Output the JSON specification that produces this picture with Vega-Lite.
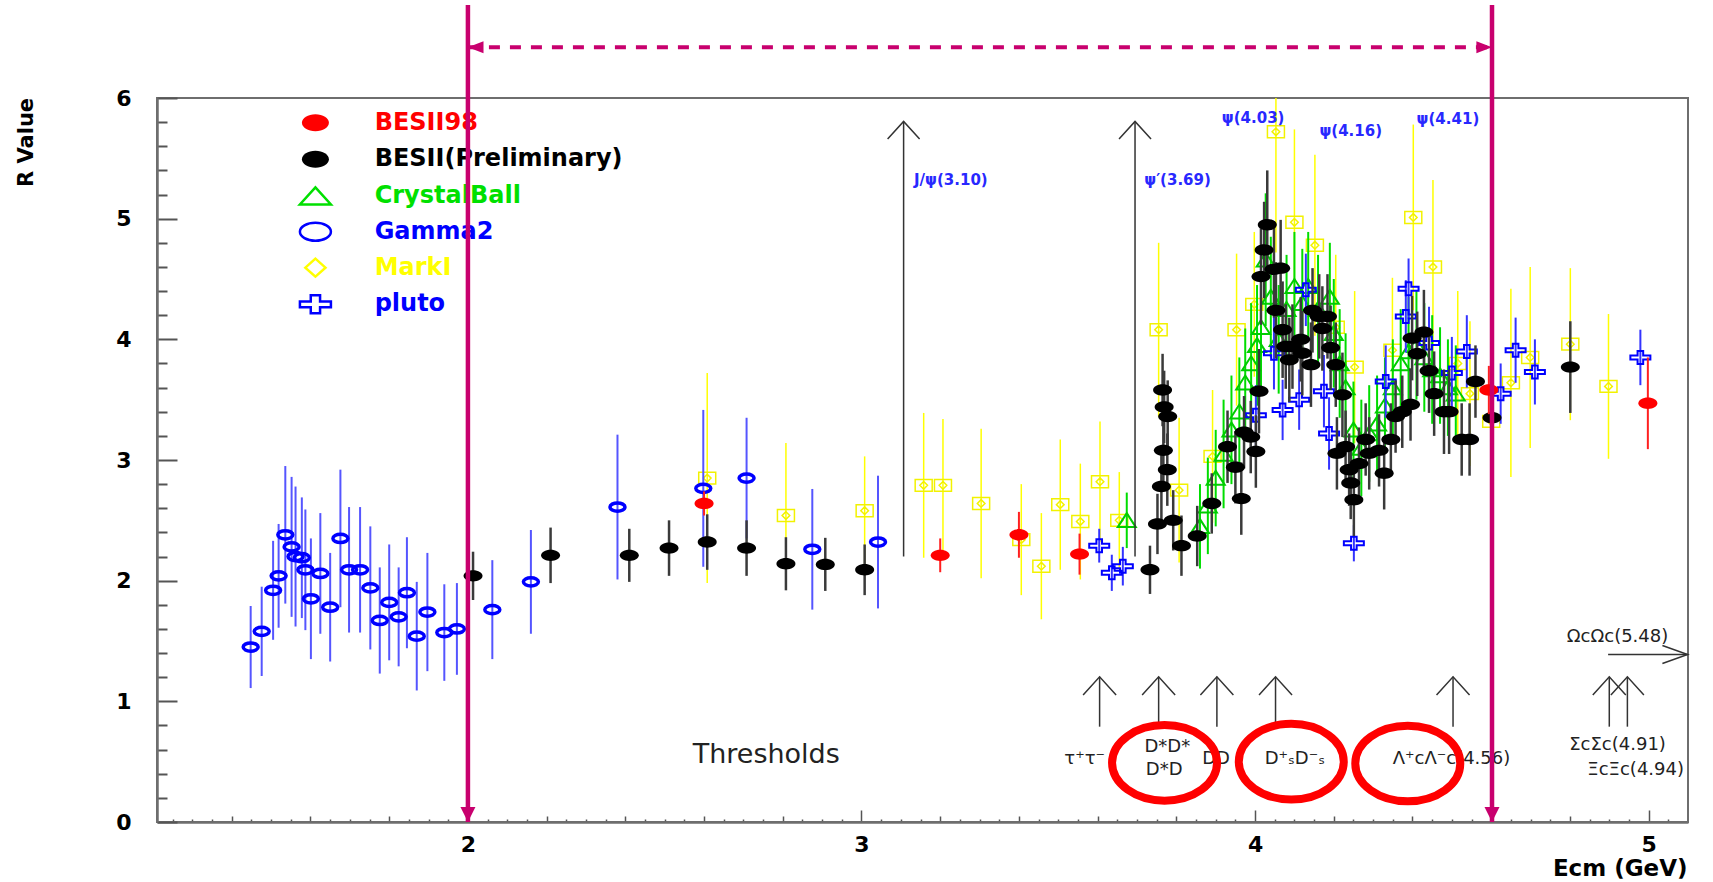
{
  "$schema": "https://vega.github.io/schema/vega-lite/v6.json",
  "width": 1531,
  "height": 724,
  "autosize": {"type": "none"},
  "padding": {"left": 157, "top": 98, "right": 25, "bottom": 60},
  "background": "#ffffff",
  "config": {"view": {"stroke": "#6e6e6e", "strokeWidth": 2}, "font": "DejaVu Sans"},
  "datasets": {
    "besii98": [
      {"Ecm": 2.6, "R": 2.64, "err": 0.1},
      {"Ecm": 3.2, "R": 2.21, "err": 0.14},
      {"Ecm": 3.4, "R": 2.38, "err": 0.19},
      {"Ecm": 3.554, "R": 2.22, "err": 0.17},
      {"Ecm": 4.594, "R": 3.58, "err": 0.2},
      {"Ecm": 4.998, "R": 3.47, "err": 0.38}
    ],
    "besii": [
      {"Ecm": 2.013, "R": 2.04, "err": 0.2},
      {"Ecm": 2.21, "R": 2.21, "err": 0.23},
      {"Ecm": 2.41, "R": 2.21, "err": 0.22},
      {"Ecm": 2.511, "R": 2.27, "err": 0.23},
      {"Ecm": 2.608, "R": 2.32, "err": 0.23},
      {"Ecm": 2.708, "R": 2.27, "err": 0.23},
      {"Ecm": 2.808, "R": 2.14, "err": 0.22},
      {"Ecm": 2.908, "R": 2.135, "err": 0.22},
      {"Ecm": 3.008, "R": 2.09, "err": 0.21},
      {"Ecm": 3.733, "R": 2.09, "err": 0.2},
      {"Ecm": 3.752, "R": 2.47, "err": 0.25},
      {"Ecm": 3.762, "R": 2.78, "err": 0.3},
      {"Ecm": 3.765, "R": 3.58, "err": 0.3},
      {"Ecm": 3.769, "R": 3.44, "err": 0.3},
      {"Ecm": 3.778, "R": 3.36, "err": 0.3},
      {"Ecm": 3.767, "R": 3.08, "err": 0.3},
      {"Ecm": 3.777, "R": 2.92, "err": 0.3},
      {"Ecm": 3.792, "R": 2.5, "err": 0.25},
      {"Ecm": 3.813, "R": 2.29, "err": 0.25},
      {"Ecm": 3.853, "R": 2.37, "err": 0.25},
      {"Ecm": 3.89, "R": 2.64, "err": 0.25},
      {"Ecm": 3.93, "R": 3.11, "err": 0.3},
      {"Ecm": 3.95, "R": 2.94, "err": 0.3},
      {"Ecm": 3.965, "R": 2.68, "err": 0.3},
      {"Ecm": 3.972, "R": 3.23, "err": 0.3},
      {"Ecm": 3.989, "R": 3.19, "err": 0.3},
      {"Ecm": 4.002, "R": 3.07, "err": 0.3},
      {"Ecm": 4.01, "R": 3.57, "err": 0.35},
      {"Ecm": 4.015, "R": 4.52, "err": 0.4},
      {"Ecm": 4.023, "R": 4.74, "err": 0.4},
      {"Ecm": 4.031, "R": 4.95, "err": 0.45},
      {"Ecm": 4.048, "R": 4.58, "err": 0.4},
      {"Ecm": 4.065, "R": 4.59, "err": 0.4},
      {"Ecm": 4.053, "R": 4.24, "err": 0.4},
      {"Ecm": 4.07, "R": 4.08, "err": 0.4},
      {"Ecm": 4.078, "R": 3.94, "err": 0.35},
      {"Ecm": 4.095, "R": 3.94, "err": 0.35},
      {"Ecm": 4.087, "R": 3.83, "err": 0.35},
      {"Ecm": 4.116, "R": 4.0, "err": 0.35},
      {"Ecm": 4.12, "R": 3.885, "err": 0.35},
      {"Ecm": 4.142, "R": 3.79, "err": 0.35},
      {"Ecm": 4.146, "R": 4.24, "err": 0.35},
      {"Ecm": 4.163, "R": 4.19, "err": 0.35},
      {"Ecm": 4.171, "R": 4.09, "err": 0.35},
      {"Ecm": 4.184, "R": 4.19, "err": 0.35},
      {"Ecm": 4.192, "R": 3.93, "err": 0.35},
      {"Ecm": 4.205, "R": 3.79, "err": 0.35},
      {"Ecm": 4.222, "R": 3.54, "err": 0.35},
      {"Ecm": 4.208, "R": 3.055, "err": 0.3},
      {"Ecm": 4.23, "R": 3.11, "err": 0.3},
      {"Ecm": 4.239, "R": 2.92, "err": 0.3},
      {"Ecm": 4.243, "R": 2.81, "err": 0.3},
      {"Ecm": 4.251, "R": 2.67, "err": 0.3},
      {"Ecm": 4.264, "R": 2.97, "err": 0.3},
      {"Ecm": 4.281, "R": 3.17, "err": 0.3},
      {"Ecm": 4.29, "R": 3.055, "err": 0.3},
      {"Ecm": 4.315, "R": 3.08, "err": 0.3},
      {"Ecm": 4.328, "R": 2.89, "err": 0.3},
      {"Ecm": 4.345, "R": 3.17, "err": 0.3},
      {"Ecm": 4.357, "R": 3.36, "err": 0.3},
      {"Ecm": 4.374, "R": 3.4, "err": 0.3},
      {"Ecm": 4.395, "R": 3.46, "err": 0.3},
      {"Ecm": 4.399, "R": 4.01, "err": 0.35},
      {"Ecm": 4.412, "R": 3.88, "err": 0.35},
      {"Ecm": 4.429, "R": 4.06, "err": 0.35},
      {"Ecm": 4.442, "R": 3.74, "err": 0.35},
      {"Ecm": 4.455, "R": 3.55, "err": 0.35},
      {"Ecm": 4.48, "R": 3.4, "err": 0.35},
      {"Ecm": 4.493, "R": 3.4, "err": 0.35},
      {"Ecm": 4.525, "R": 3.17, "err": 0.3},
      {"Ecm": 4.545, "R": 3.17, "err": 0.3},
      {"Ecm": 4.56, "R": 3.65, "err": 0.3},
      {"Ecm": 4.602, "R": 3.35, "err": 0.3},
      {"Ecm": 4.801, "R": 3.77, "err": 0.38}
    ],
    "crystal": [
      {"Ecm": 3.674, "R": 2.5, "err": 0.23},
      {"Ecm": 3.86, "R": 2.45, "err": 0.35},
      {"Ecm": 3.88, "R": 2.62, "err": 0.4},
      {"Ecm": 3.9, "R": 2.85, "err": 0.4},
      {"Ecm": 3.92, "R": 3.05, "err": 0.45},
      {"Ecm": 3.94, "R": 3.25, "err": 0.45},
      {"Ecm": 3.96, "R": 3.4, "err": 0.45},
      {"Ecm": 3.975, "R": 3.64, "err": 0.45},
      {"Ecm": 3.99, "R": 3.8, "err": 0.5},
      {"Ecm": 4.005, "R": 3.95, "err": 0.5},
      {"Ecm": 4.015, "R": 4.1, "err": 0.5},
      {"Ecm": 4.027, "R": 4.66, "err": 0.55},
      {"Ecm": 4.04, "R": 4.35, "err": 0.5},
      {"Ecm": 4.06, "R": 4.0, "err": 0.45},
      {"Ecm": 4.08, "R": 4.25, "err": 0.45},
      {"Ecm": 4.1, "R": 4.44, "err": 0.45},
      {"Ecm": 4.12, "R": 4.3, "err": 0.45},
      {"Ecm": 4.135, "R": 4.44, "err": 0.45},
      {"Ecm": 4.16, "R": 4.25, "err": 0.45},
      {"Ecm": 4.19, "R": 4.35, "err": 0.45},
      {"Ecm": 4.2, "R": 4.05, "err": 0.45},
      {"Ecm": 4.215, "R": 3.8, "err": 0.45},
      {"Ecm": 4.23, "R": 3.6, "err": 0.45},
      {"Ecm": 4.25, "R": 3.25, "err": 0.4},
      {"Ecm": 4.27, "R": 3.1, "err": 0.4},
      {"Ecm": 4.29, "R": 3.22, "err": 0.4},
      {"Ecm": 4.31, "R": 3.3, "err": 0.4},
      {"Ecm": 4.33, "R": 3.45, "err": 0.4},
      {"Ecm": 4.35, "R": 3.6, "err": 0.4},
      {"Ecm": 4.37, "R": 3.8, "err": 0.45},
      {"Ecm": 4.39, "R": 3.9, "err": 0.45},
      {"Ecm": 4.41, "R": 3.95, "err": 0.45},
      {"Ecm": 4.43, "R": 3.85, "err": 0.45},
      {"Ecm": 4.45, "R": 3.75, "err": 0.45},
      {"Ecm": 4.47, "R": 3.7, "err": 0.4},
      {"Ecm": 4.49, "R": 3.6, "err": 0.4},
      {"Ecm": 4.51, "R": 3.55, "err": 0.4}
    ],
    "gamma2": [
      {"Ecm": 1.448, "R": 1.45, "err": 0.34},
      {"Ecm": 1.476, "R": 1.58, "err": 0.37},
      {"Ecm": 1.505, "R": 1.92, "err": 0.41},
      {"Ecm": 1.519, "R": 2.04, "err": 0.43},
      {"Ecm": 1.536, "R": 2.38, "err": 0.57},
      {"Ecm": 1.552, "R": 2.28, "err": 0.58},
      {"Ecm": 1.562, "R": 2.2, "err": 0.58},
      {"Ecm": 1.578, "R": 2.19, "err": 0.5},
      {"Ecm": 1.587, "R": 2.09, "err": 0.5},
      {"Ecm": 1.601, "R": 1.85, "err": 0.5},
      {"Ecm": 1.625, "R": 2.06, "err": 0.5},
      {"Ecm": 1.65, "R": 1.78, "err": 0.45},
      {"Ecm": 1.676, "R": 2.35, "err": 0.57},
      {"Ecm": 1.698, "R": 2.09, "err": 0.52},
      {"Ecm": 1.726, "R": 2.09, "err": 0.52},
      {"Ecm": 1.752, "R": 1.94, "err": 0.51},
      {"Ecm": 1.776, "R": 1.67, "err": 0.44},
      {"Ecm": 1.8, "R": 1.82, "err": 0.48},
      {"Ecm": 1.824, "R": 1.7, "err": 0.41},
      {"Ecm": 1.845, "R": 1.9, "err": 0.46},
      {"Ecm": 1.87, "R": 1.54, "err": 0.45},
      {"Ecm": 1.897, "R": 1.74, "err": 0.49},
      {"Ecm": 1.94, "R": 1.57, "err": 0.4},
      {"Ecm": 1.972, "R": 1.6, "err": 0.38},
      {"Ecm": 2.062, "R": 1.76, "err": 0.41},
      {"Ecm": 2.16, "R": 1.99, "err": 0.43},
      {"Ecm": 2.38, "R": 2.61, "err": 0.6},
      {"Ecm": 2.598, "R": 2.765, "err": 0.65},
      {"Ecm": 2.708, "R": 2.85, "err": 0.5},
      {"Ecm": 2.875, "R": 2.26, "err": 0.5},
      {"Ecm": 3.042, "R": 2.32, "err": 0.55}
    ],
    "markI": [
      {"Ecm": 2.608, "R": 2.85, "err": 0.87},
      {"Ecm": 2.808, "R": 2.54, "err": 0.6},
      {"Ecm": 3.008, "R": 2.58, "err": 0.45},
      {"Ecm": 3.158, "R": 2.79, "err": 0.6},
      {"Ecm": 3.207, "R": 2.79, "err": 0.55},
      {"Ecm": 3.304, "R": 2.64, "err": 0.62},
      {"Ecm": 3.406, "R": 2.34, "err": 0.46},
      {"Ecm": 3.457, "R": 2.12, "err": 0.44},
      {"Ecm": 3.505, "R": 2.63, "err": 0.54},
      {"Ecm": 3.556, "R": 2.49, "err": 0.48},
      {"Ecm": 3.606, "R": 2.82, "err": 0.5},
      {"Ecm": 3.655, "R": 2.5, "err": 0.4},
      {"Ecm": 3.755, "R": 4.08, "err": 0.72},
      {"Ecm": 3.807, "R": 2.75, "err": 0.6},
      {"Ecm": 3.892, "R": 3.03, "err": 0.55},
      {"Ecm": 3.953, "R": 4.08, "err": 0.63},
      {"Ecm": 3.998, "R": 4.29, "err": 0.6},
      {"Ecm": 4.053, "R": 5.72, "err": 1.0},
      {"Ecm": 4.1, "R": 4.97, "err": 0.77},
      {"Ecm": 4.152, "R": 4.78, "err": 0.75},
      {"Ecm": 4.205, "R": 4.1, "err": 0.6},
      {"Ecm": 4.253, "R": 3.77, "err": 0.63},
      {"Ecm": 4.349, "R": 3.91, "err": 0.6},
      {"Ecm": 4.402, "R": 5.01, "err": 0.77},
      {"Ecm": 4.452, "R": 4.6, "err": 0.72},
      {"Ecm": 4.515, "R": 3.8, "err": 0.6},
      {"Ecm": 4.546, "R": 3.55, "err": 0.6},
      {"Ecm": 4.6, "R": 3.32, "err": 0.5},
      {"Ecm": 4.65, "R": 3.64, "err": 0.78},
      {"Ecm": 4.699, "R": 3.85, "err": 0.75},
      {"Ecm": 4.801, "R": 3.96, "err": 0.63},
      {"Ecm": 4.898, "R": 3.61, "err": 0.6}
    ],
    "pluto": [
      {"Ecm": 3.604, "R": 2.29, "err": 0.14},
      {"Ecm": 3.636, "R": 2.065, "err": 0.15},
      {"Ecm": 3.664, "R": 2.12, "err": 0.16},
      {"Ecm": 4.002, "R": 3.37, "err": 0.25},
      {"Ecm": 4.048, "R": 3.885, "err": 0.3},
      {"Ecm": 4.07, "R": 3.415, "err": 0.25},
      {"Ecm": 4.112, "R": 3.5, "err": 0.25},
      {"Ecm": 4.129, "R": 4.41, "err": 0.3},
      {"Ecm": 4.175, "R": 3.57, "err": 0.3},
      {"Ecm": 4.188, "R": 3.22, "err": 0.3},
      {"Ecm": 4.251, "R": 2.31, "err": 0.15},
      {"Ecm": 4.332, "R": 3.65, "err": 0.3},
      {"Ecm": 4.383, "R": 4.19, "err": 0.3},
      {"Ecm": 4.39, "R": 4.42, "err": 0.25},
      {"Ecm": 4.442, "R": 3.97, "err": 0.3},
      {"Ecm": 4.5, "R": 3.72, "err": 0.3},
      {"Ecm": 4.538, "R": 3.9, "err": 0.3},
      {"Ecm": 4.624, "R": 3.55, "err": 0.25},
      {"Ecm": 4.662, "R": 3.91, "err": 0.27},
      {"Ecm": 4.711, "R": 3.73, "err": 0.27},
      {"Ecm": 4.979, "R": 3.85, "err": 0.23}
    ],
    "resonances": [
      {"Ecm": 3.107, "R": 2.2, "R2": 5.806},
      {"Ecm": 3.695, "R": 2.2, "R2": 5.806}
    ],
    "peakLabels": [
      {"label": "J/ψ(3.10)", "Ecm": 3.227, "R": 5.32},
      {"label": "ψ′(3.69)", "Ecm": 3.803, "R": 5.32},
      {"label": "ψ(4.03)", "Ecm": 3.995, "R": 5.834},
      {"label": "ψ(4.16)", "Ecm": 4.243, "R": 5.729},
      {"label": "ψ(4.41)", "Ecm": 4.49, "R": 5.83}
    ],
    "thresholds": [
      {"Ecm": 3.605, "R": 0.79, "R2": 1.203},
      {"Ecm": 3.755, "R": 0.79, "R2": 1.203},
      {"Ecm": 3.903, "R": 0.79, "R2": 1.203},
      {"Ecm": 4.052, "R": 0.79, "R2": 1.203},
      {"Ecm": 4.503, "R": 0.79, "R2": 1.203},
      {"Ecm": 4.9, "R": 0.79, "R2": 1.203},
      {"Ecm": 4.946, "R": 0.79, "R2": 1.203}
    ],
    "omega": [
      {"Ecm": 4.897, "Ecm2": 5.099, "R": 1.388}
    ],
    "thresholdLabels": [
      {"label": "τ⁺τ⁻", "Ecm": 3.567, "R": 0.526},
      {"label": "D*D*", "Ecm": 3.777, "R": 0.622},
      {"label": "D*D", "Ecm": 3.769, "R": 0.429},
      {"label": "DD", "Ecm": 3.901, "R": 0.526},
      {"label": "D⁺ₛD⁻ₛ", "Ecm": 4.101, "R": 0.526},
      {"label": "Λ⁺cΛ⁻c(4.56)", "Ecm": 4.499, "R": 0.526},
      {"label": "ΣcΣc(4.91)", "Ecm": 4.921, "R": 0.636},
      {"label": "ΞcΞc(4.94)", "Ecm": 4.967, "R": 0.429},
      {"label": "ΩcΩc(5.48)", "Ecm": 4.921, "R": 1.534}
    ],
    "captions": [
      {"label": "Thresholds", "Ecm": 2.758, "R": 0.555}
    ],
    "legend": [
      {"label": "BESII98", "Ecm": 1.6125, "labelEcm": 1.763, "R": 5.795},
      {"label": "BESII(Preliminary)", "Ecm": 1.6125, "labelEcm": 1.763, "R": 5.492},
      {"label": "CrystalBall", "Ecm": 1.6125, "labelEcm": 1.763, "R": 5.188},
      {"label": "Gamma2", "Ecm": 1.6125, "labelEcm": 1.763, "R": 4.892},
      {"label": "MarkI", "Ecm": 1.6125, "labelEcm": 1.763, "R": 4.594},
      {"label": "pluto", "Ecm": 1.6125, "labelEcm": 1.763, "R": 4.29}
    ],
    "circled": [
      {"Ecm": 3.77, "R": 0.49},
      {"Ecm": 4.092, "R": 0.5},
      {"Ecm": 4.388, "R": 0.485}
    ],
    "bounds": [
      {"Ecm": 2.0, "R": 0, "R2": 6.77},
      {"Ecm": 4.602, "R": 0, "R2": 6.77}
    ],
    "span": [
      {"Ecm": 2.0, "Ecm2": 4.602, "R": 6.42}
    ]
  },
  "encoding": {
    "x": {
      "field": "Ecm",
      "type": "quantitative",
      "scale": {"domain": [1.21, 5.1], "nice": false, "zero": false},
      "axis": {
        "title": "Ecm (GeV)",
        "values": [1.25,1.3,1.35,1.4,1.45,1.5,1.55,1.6,1.65,1.7,1.75,1.8,1.85,1.9,1.95,2,2.05,2.1,2.15,2.2,2.25,2.3,2.35,2.4,2.45,2.5,2.55,2.6,2.65,2.7,2.75,2.8,2.85,2.9,2.95,3,3.05,3.1,3.15,3.2,3.25,3.3,3.35,3.4,3.45,3.5,3.55,3.6,3.65,3.7,3.75,3.8,3.85,3.9,3.95,4,4.05,4.1,4.15,4.2,4.25,4.3,4.35,4.4,4.45,4.5,4.55,4.6,4.65,4.7,4.75,4.8,4.85,4.9,4.95,5,5.05],
        "format": ".0f",
        "labelExpr": "abs(datum.value - round(datum.value)) < 1e-6 ? datum.label : ''",
        "labelFont": "DejaVu Sans",
        "labelFontWeight": "bold",
        "labelFontSize": 22,
        "labelColor": "#000000",
        "labelPadding": 24,
        "labelOverlap": false,
        "labelFlush": false,
        "labelBound": false,
        "tickSize": {
          "condition": [
            {"test": "abs(datum.value - round(datum.value)) < 1e-6", "value": -12},
            {"test": "abs(datum.value * 5 - round(datum.value * 5)) < 1e-6", "value": -6}
          ],
          "value": -3
        },
        "tickColor": "#555555",
        "tickWidth": 1.5,
        "domainColor": "#6e6e6e",
        "domainWidth": 2.5,
        "grid": false,
        "titleFont": "DejaVu Sans",
        "titleFontWeight": "bold",
        "titleFontSize": 23,
        "titleColor": "#000000",
        "titleX": 1530,
        "titleY": 46,
        "titleAlign": "right",
        "titleBaseline": "middle"
      }
    },
    "y": {
      "field": "R",
      "type": "quantitative",
      "scale": {"domain": [0, 6], "nice": false, "zero": false},
      "axis": {
        "title": "R Value",
        "values": [0,0.2,0.4,0.6,0.8,1,1.2,1.4,1.6,1.8,2,2.2,2.4,2.6,2.8,3,3.2,3.4,3.6,3.8,4,4.2,4.4,4.6,4.8,5,5.2,5.4,5.6,5.8,6],
        "format": ".0f",
        "labelExpr": "abs(datum.value - round(datum.value)) < 1e-6 ? datum.label : ''",
        "labelFont": "DejaVu Sans",
        "labelFontWeight": "bold",
        "labelFontSize": 22,
        "labelColor": "#000000",
        "labelPadding": 46,
        "labelOverlap": false,
        "labelFlush": false,
        "labelBound": false,
        "tickSize": {
          "condition": {"test": "abs(datum.value - round(datum.value)) < 1e-6", "value": -20},
          "value": -10
        },
        "tickColor": "#555555",
        "tickWidth": 2,
        "domainColor": "#6e6e6e",
        "domainWidth": 2.5,
        "grid": false,
        "titleFont": "DejaVu Sans",
        "titleFontWeight": "bold",
        "titleFontSize": 21,
        "titleColor": "#000000",
        "titleX": -131,
        "titleY": 44,
        "titleAngle": 270,
        "titleAlign": "center",
        "titleBaseline": "middle"
      }
    }
  },
  "layer": [
    {"data": {"name": "markI"}, "mark": {"type": "errorbar", "color": "#ffff00", "thickness": 1.5, "clip": true}, "encoding": {"yError": {"field": "err"}}},
    {"data": {"name": "markI"}, "mark": {"type": "point", "shape": "M -1 -0.7 L 1 -0.7 L 1 0.7 L -1 0.7 Z M 0 -0.45 L 0.45 0 L 0 0.45 L -0.45 0 Z", "size": 289, "filled": false, "color": "#f2f200", "strokeWidth": 1.5, "opacity": 1, "clip": true}},
    {"data": {"name": "gamma2"}, "mark": {"type": "errorbar", "color": "#5555ff", "thickness": 2, "clip": true}, "encoding": {"yError": {"field": "err"}}},
    {"data": {"name": "gamma2"}, "mark": {"type": "point", "shape": "M 1 0 C 1 0.304 0.552 0.55 0 0.55 C -0.552 0.55 -1 0.304 -1 0 C -1 -0.304 -0.552 -0.55 0 -0.55 C 0.552 -0.55 1 -0.304 1 0 Z", "size": 225, "filled": false, "color": "#0000ff", "strokeWidth": 3.5, "opacity": 1, "clip": true}},
    {"data": {"name": "crystal"}, "mark": {"type": "errorbar", "color": "#00dd00", "thickness": 2, "clip": true}, "encoding": {"yError": {"field": "err"}}},
    {"data": {"name": "crystal"}, "mark": {"type": "point", "shape": "M 0 -0.8 L 1 0.75 L -1 0.75 Z", "size": 324, "filled": false, "color": "#00cc00", "strokeWidth": 2, "opacity": 1, "clip": true}},
    {"data": {"name": "pluto"}, "mark": {"type": "errorbar", "color": "#3333ff", "thickness": 2, "clip": true}, "encoding": {"yError": {"field": "err"}}},
    {"data": {"name": "pluto"}, "mark": {"type": "point", "shape": "M -0.28 -0.65 L 0.28 -0.65 L 0.28 -0.2 L 1 -0.2 L 1 0.2 L 0.28 0.2 L 0.28 0.65 L -0.28 0.65 L -0.28 0.2 L -1 0.2 L -1 -0.2 L -0.28 -0.2 Z", "size": 400, "filled": false, "color": "#0000ff", "strokeWidth": 2, "opacity": 1, "clip": true}},
    {"data": {"name": "besii"}, "mark": {"type": "errorbar", "color": "#3a3a3a", "thickness": 2.5, "clip": true}, "encoding": {"yError": {"field": "err"}}},
    {"data": {"name": "besii"}, "mark": {"type": "point", "shape": "M 1 0 C 1 0.331 0.552 0.6 0 0.6 C -0.552 0.6 -1 0.331 -1 0 C -1 -0.331 -0.552 -0.6 0 -0.6 C 0.552 -0.6 1 -0.331 1 0 Z", "size": 361, "filled": true, "color": "#000000", "opacity": 1, "clip": true}},
    {"data": {"name": "besii98"}, "mark": {"type": "errorbar", "color": "#ff2020", "thickness": 2, "clip": true}, "encoding": {"yError": {"field": "err"}}},
    {"data": {"name": "besii98"}, "mark": {"type": "point", "shape": "M 1 0 C 1 0.331 0.552 0.6 0 0.6 C -0.552 0.6 -1 0.331 -1 0 C -1 -0.331 -0.552 -0.6 0 -0.6 C 0.552 -0.6 1 -0.331 1 0 Z", "size": 361, "filled": true, "color": "#ff0000", "opacity": 1, "clip": true}},

    {"data": {"name": "resonances"}, "mark": {"type": "rule", "color": "#333333", "strokeWidth": 1.5}, "encoding": {"y2": {"field": "R2"}}},
    {"data": {"name": "resonances"}, "mark": {"type": "point", "shape": "M -1 1.1 L 0 0 L 1 1.1", "size": 1024, "filled": false, "color": "#333333", "strokeWidth": 1.5, "opacity": 1},
     "encoding": {"y": {"field": "R2", "type": "quantitative", "scale": {"domain": [0, 6], "nice": false, "zero": false}}}},
    {"data": {"name": "peakLabels"}, "mark": {"type": "text", "font": "DejaVu Sans", "fontWeight": "bold", "fontSize": 15, "color": "#2828ff", "align": "center", "baseline": "middle"}, "encoding": {"text": {"field": "label"}}},

    {"data": {"name": "thresholds"}, "mark": {"type": "rule", "color": "#333333", "strokeWidth": 1.5}, "encoding": {"y2": {"field": "R2"}}},
    {"data": {"name": "thresholds"}, "mark": {"type": "point", "shape": "M -1 1.1 L 0 0 L 1 1.1", "size": 1089, "filled": false, "color": "#333333", "strokeWidth": 1.5, "opacity": 1},
     "encoding": {"y": {"field": "R2", "type": "quantitative", "scale": {"domain": [0, 6], "nice": false, "zero": false}}}},
    {"data": {"name": "omega"}, "mark": {"type": "rule", "color": "#333333", "strokeWidth": 1.5}, "encoding": {"x2": {"field": "Ecm2"}}},
    {"data": {"name": "omega"}, "mark": {"type": "point", "shape": "M -2.8 -1 L 0 0 L -2.8 1", "size": 324, "filled": false, "color": "#333333", "strokeWidth": 1.5, "opacity": 1},
     "encoding": {"x": {"field": "Ecm2", "type": "quantitative", "scale": {"domain": [1.21, 5.1], "nice": false, "zero": false}}}},
    {"data": {"name": "thresholdLabels"}, "mark": {"type": "text", "font": "DejaVu Sans", "fontSize": 18, "color": "#222222", "align": "center", "baseline": "middle"}, "encoding": {"text": {"field": "label"}}},
    {"data": {"name": "captions"}, "mark": {"type": "text", "font": "DejaVu Sans", "fontSize": 27, "color": "#222222", "align": "center", "baseline": "middle"}, "encoding": {"text": {"field": "label"}}},

    {"data": {"name": "legend"}, "transform": [{"filter": {"field": "label", "oneOf": ["BESII98", "BESII(Preliminary)"]}}],
     "mark": {"type": "point", "size": 729, "filled": true, "opacity": 1},
     "encoding": {
       "color": {"field": "label", "type": "nominal", "legend": null,
         "scale": {"domain": ["BESII98", "BESII(Preliminary)", "CrystalBall", "Gamma2", "MarkI", "pluto"], "range": ["#ff0000", "#000000", "#00e000", "#0000ff", "#ffff00", "#0000ff"]}},
       "shape": {"field": "label", "type": "nominal", "legend": null,
         "scale": {"domain": ["BESII98", "BESII(Preliminary)", "CrystalBall", "Gamma2", "MarkI", "pluto"],
           "range": [
             "M 1 0 C 1 0.348 0.552 0.63 0 0.63 C -0.552 0.63 -1 0.348 -1 0 C -1 -0.348 -0.552 -0.63 0 -0.63 C 0.552 -0.63 1 -0.348 1 0 Z",
             "M 1 0 C 1 0.348 0.552 0.63 0 0.63 C -0.552 0.63 -1 0.348 -1 0 C -1 -0.348 -0.552 -0.63 0 -0.63 C 0.552 -0.63 1 -0.348 1 0 Z",
             "M 0 -0.55 L 1 0.55 L -1 0.55 Z",
             "M 1 0 C 1 0.32 0.552 0.58 0 0.58 C -0.552 0.58 -1 0.32 -1 0 C -1 -0.32 -0.552 -0.58 0 -0.58 C 0.552 -0.58 1 -0.32 1 0 Z",
             "M 0 -0.58 L 0.65 0 L 0 0.58 L -0.65 0 Z",
             "M -0.3 -0.58 L 0.3 -0.58 L 0.3 -0.18 L 1 -0.18 L 1 0.18 L 0.3 0.18 L 0.3 0.58 L -0.3 0.58 L -0.3 0.18 L -1 0.18 L -1 -0.18 L -0.3 -0.18 Z"
           ]}}
     }},
    {"data": {"name": "legend"}, "transform": [{"filter": {"field": "label", "oneOf": ["CrystalBall", "Gamma2", "MarkI", "pluto"]}}],
     "mark": {"type": "point", "size": 961, "filled": false, "strokeWidth": 2.5, "opacity": 1},
     "encoding": {
       "color": {"field": "label", "type": "nominal", "legend": null,
         "scale": {"domain": ["BESII98", "BESII(Preliminary)", "CrystalBall", "Gamma2", "MarkI", "pluto"], "range": ["#ff0000", "#000000", "#00e000", "#0000ff", "#ffff00", "#0000ff"]}},
       "shape": {"field": "label", "type": "nominal", "legend": null,
         "scale": {"domain": ["BESII98", "BESII(Preliminary)", "CrystalBall", "Gamma2", "MarkI", "pluto"],
           "range": [
             "M 1 0 C 1 0.348 0.552 0.63 0 0.63 C -0.552 0.63 -1 0.348 -1 0 C -1 -0.348 -0.552 -0.63 0 -0.63 C 0.552 -0.63 1 -0.348 1 0 Z",
             "M 1 0 C 1 0.348 0.552 0.63 0 0.63 C -0.552 0.63 -1 0.348 -1 0 C -1 -0.348 -0.552 -0.63 0 -0.63 C 0.552 -0.63 1 -0.348 1 0 Z",
             "M 0 -0.55 L 1 0.55 L -1 0.55 Z",
             "M 1 0 C 1 0.32 0.552 0.58 0 0.58 C -0.552 0.58 -1 0.32 -1 0 C -1 -0.32 -0.552 -0.58 0 -0.58 C 0.552 -0.58 1 -0.32 1 0 Z",
             "M 0 -0.58 L 0.65 0 L 0 0.58 L -0.65 0 Z",
             "M -0.3 -0.58 L 0.3 -0.58 L 0.3 -0.18 L 1 -0.18 L 1 0.18 L 0.3 0.18 L 0.3 0.58 L -0.3 0.58 L -0.3 0.18 L -1 0.18 L -1 -0.18 L -0.3 -0.18 Z"
           ]}}
     }},
    {"data": {"name": "legend"}, "mark": {"type": "text", "font": "DejaVu Sans", "fontWeight": "bold", "fontSize": 24, "align": "left", "baseline": "middle"},
     "encoding": {
       "x": {"field": "labelEcm", "type": "quantitative", "scale": {"domain": [1.21, 5.1], "nice": false, "zero": false}},
       "text": {"field": "label"},
       "color": {"field": "label", "type": "nominal", "legend": null,
         "scale": {"domain": ["BESII98", "BESII(Preliminary)", "CrystalBall", "Gamma2", "MarkI", "pluto"], "range": ["#ff0000", "#000000", "#00e000", "#0000ff", "#ffff00", "#0000ff"]}}
     }},

    {"data": {"name": "circled"}, "mark": {"type": "point", "shape": "M 1 0 C 1 0.398 0.552 0.72 0 0.72 C -0.552 0.72 -1 0.398 -1 0 C -1 -0.398 -0.552 -0.72 0 -0.72 C 0.552 -0.72 1 -0.398 1 0 Z", "size": 11025, "filled": false, "color": "#ff0000", "strokeWidth": 8, "opacity": 1}},

    {"data": {"name": "bounds"}, "mark": {"type": "rule", "color": "#c8006e", "strokeWidth": 4.5}, "encoding": {"y2": {"field": "R2"}}},
    {"data": {"name": "bounds"}, "mark": {"type": "point", "shape": "M -1 -2 L 1 -2 L 0 0 Z", "size": 225, "filled": true, "color": "#c8006e", "opacity": 1}},
    {"data": {"name": "span"}, "mark": {"type": "rule", "color": "#c8006e", "strokeWidth": 4, "strokeDash": [11, 10]}, "encoding": {"x2": {"field": "Ecm2"}}},
    {"data": {"name": "span"}, "mark": {"type": "point", "shape": "M 0 0 L 2.6 -1 L 2.6 1 Z", "size": 144, "filled": true, "color": "#c8006e", "opacity": 1}},
    {"data": {"name": "span"}, "mark": {"type": "point", "shape": "M 0 0 L -2.6 -1 L -2.6 1 Z", "size": 144, "filled": true, "color": "#c8006e", "opacity": 1},
     "encoding": {"x": {"field": "Ecm2", "type": "quantitative", "scale": {"domain": [1.21, 5.1], "nice": false, "zero": false}}}}
  ]
}
